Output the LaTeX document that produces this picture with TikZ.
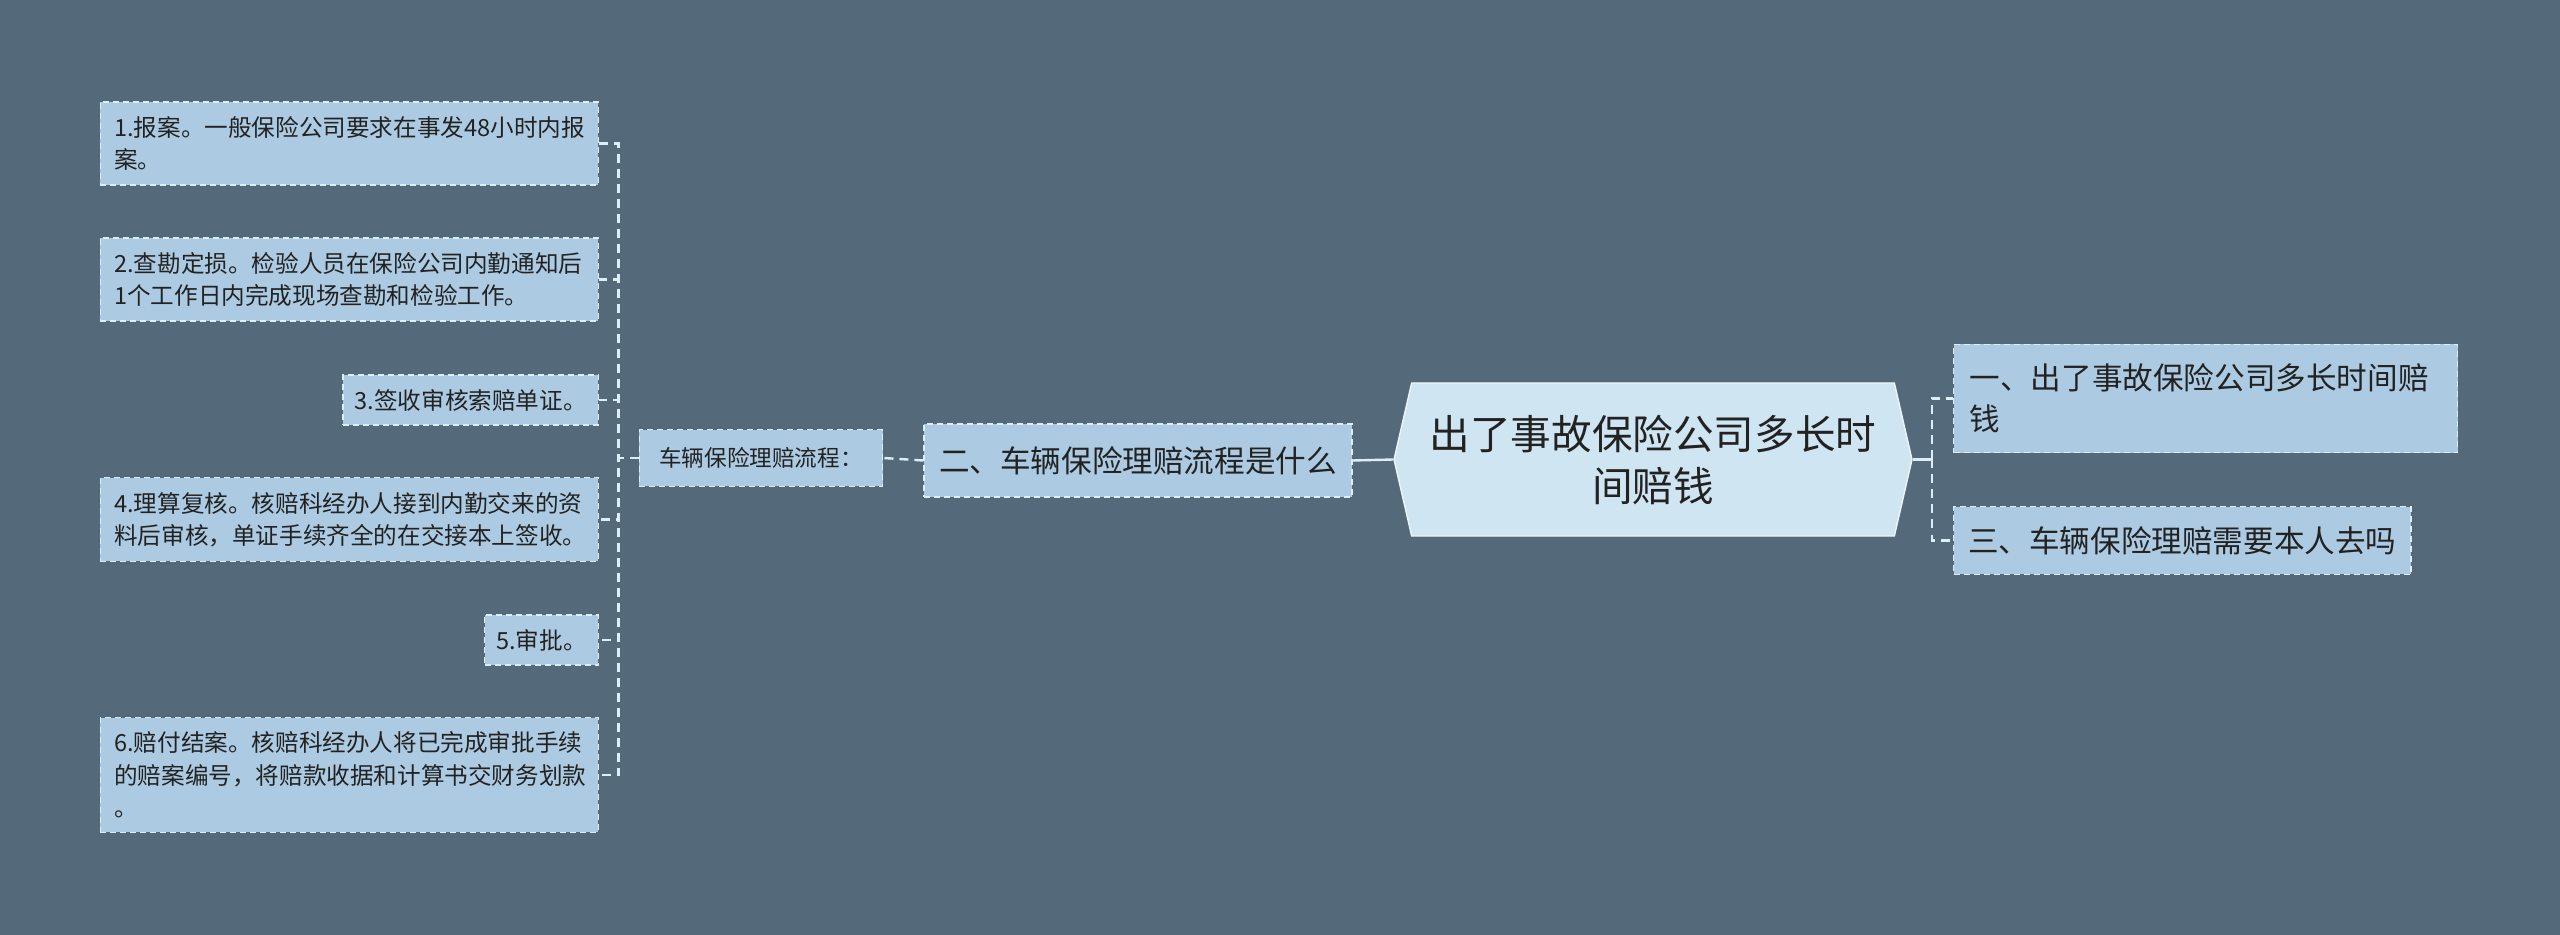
\documentclass[tikz,border=0pt]{standalone}
\usepackage{fontspec}
\newfontfamily\cjk{Noto Sans CJK SC}
\usetikzlibrary{shapes.symbols}
\definecolor{bgcol}{RGB}{84,106,122}
\definecolor{boxcol}{RGB}{172,203,226}
\definecolor{rootcol}{RGB}{207,229,242}
\definecolor{linecol}{RGB}{222,238,248}
\definecolor{txtcol}{RGB}{34,34,34}

\begin{document}
\begin{tikzpicture}[x=0.5pt, y=-0.5pt,
  box/.style={draw=linecol, fill=boxcol, dash pattern=on 3pt off 2pt, line width=0.7pt, text=txtcol},
  leaf/.style={box, font=\cjk\fontsize{11.8}{16.25}\selectfont, inner xsep=7pt, inner ysep=7.1pt, align=left, anchor=east},
  topic/.style={box, font=\cjk\fontsize{15.3}{20.5}\selectfont, inner ysep=9.8pt, align=left},
  link/.style={draw=linecol, line width=1.2pt, dash pattern=on 4.5pt off 3pt},
  solidlink/.style={draw=linecol, line width=1.2pt}]
\useasboundingbox[fill=bgcol] (0,0) rectangle (2560,935);

\node[signal, signal to=east and west, signal pointer angle=154, fill=rootcol, draw=white!60!rootcol, line width=0.7pt, minimum width=259pt, minimum height=76.5pt, inner sep=0pt, text=txtcol, align=center, font=\cjk\fontsize{20.3}{26}\selectfont] (root) at (1653,459.5){出了事故保险公司多长时\\间赔钱};

\node[topic, inner xsep=7.5pt, minimum height=36.5pt] (topic2) at (1138,460.5){二、车辆保险理赔流程是什么};
\node[box, font=\cjk\fontsize{11.3}{14}\selectfont, inner xsep=10pt, inner ysep=9pt, minimum width=121pt] (flow) at (761,458){车辆保险理赔流程：};

\node[leaf, text width=235pt] (leaf1) at (599,143.5){1.报案。一般保险公司要求在事发48小时内报\\案。};
\node[leaf, text width=235pt] (leaf2) at (599,279.5){2.查勘定损。检验人员在保险公司内勤通知后\\1个工作日内完成现场查勘和检验工作。};
\node[leaf, inner xsep=5.8pt] (leaf3) at (599,400){3.签收审核索赔单证。};
\node[leaf, text width=235pt] (leaf4) at (599,519.5){4.理算复核。核赔科经办人接到内勤交来的资\\料后审核，单证手续齐全的在交接本上签收。};
\node[leaf, inner xsep=5.8pt] (leaf5) at (599,640){5.审批。};
\node[leaf, text width=235pt] (leaf6) at (599,775){6.赔付结案。核赔科经办人将已完成审批手续\\的赔案编号，将赔款收据和计算书交财务划款\\。};

\node[topic, anchor=west, inner xsep=8pt, text width=236pt] (topic1) at (1953,398.5){一、出了事故保险公司多长时间赔\\钱};
\node[topic, anchor=west, inner xsep=7.2pt] (topic3) at (1953,540.5){三、车辆保险理赔需要本人去吗};

\draw[solidlink](root.west) -- (topic2.east);
\draw[link](topic2.west) -- (flow.east);
\foreach \i in {1,...,6}
  \draw[link](flow.west) -- ++(-20,0) |- (leaf\i.east);

\draw[solidlink](root.east) -- ++(19,0) coordinate (rjoin);
\draw[link](rjoin) |- (topic1.west);
\draw[link](rjoin) |- (topic3.west);

\end{tikzpicture}
\end{document}
